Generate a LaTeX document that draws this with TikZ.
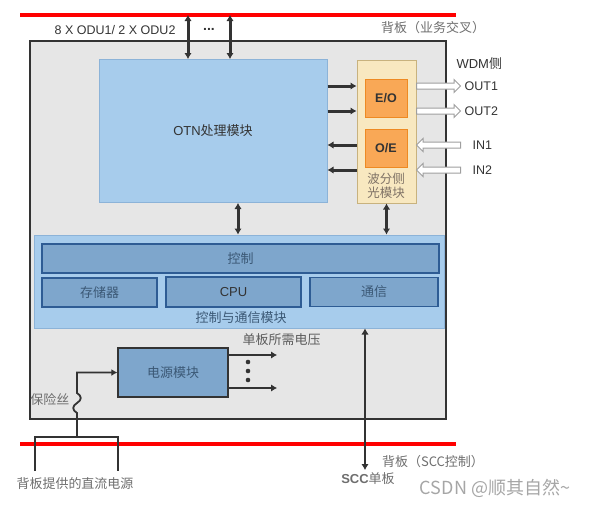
\documentclass[tikz,border=0pt]{standalone}
\usepackage{fontspec}
\setmainfont{Liberation Sans}
\newfontfamily\cjk{Noto Sans CJK SC}
\usetikzlibrary{arrows.meta,shapes.arrows}
\definecolor{board}{HTML}{E6E6E6}
\definecolor{sky}{HTML}{A7CCEC}
\definecolor{skyline}{HTML}{8CB3D8}
\definecolor{steel}{HTML}{7EA6CC}
\definecolor{deep}{HTML}{2E5C94}
\definecolor{cream}{HTML}{F8E8C0}
\definecolor{tan}{HTML}{C8B27E}
\definecolor{eofill}{HTML}{F9A856}
\definecolor{eoline}{HTML}{EE8A22}
\definecolor{ink}{HTML}{333333}
\definecolor{note}{HTML}{6E6E6E}
\definecolor{slate}{HTML}{3B5875}

\begin{document}
\begin{tikzpicture}[
 x=1pt,y=-1pt,
 box/.style={rectangle,inner sep=0pt},
 unit/.style={box,draw=deep,fill=steel,line width=1.6pt,text=slate,font=\cjk\fontsize{13}{15}\selectfont},
 conv/.style={box,draw=eoline,fill=eofill,line width=1pt,minimum width=42pt,minimum height=38pt,text=ink,font=\bfseries\fontsize{12.5}{14}\selectfont},
 link/.style={{Latex[length=6pt,width=7.5pt]}-{Latex[length=6pt,width=7.5pt]},line width=3pt,draw=ink},
 feed/.style={-{Latex[length=6pt,width=7.5pt]},line width=3pt,draw=ink},
 wire/.style={line width=1.8pt,draw=ink},
 port/.style={single arrow,draw=gray!75,fill=white,line width=1pt,minimum height=44pt,minimum width=12pt,single arrow head extend=3.5pt,inner xsep=0pt,inner ysep=2.5pt},
 bus/.style={draw=red,line width=3.5pt},
 lbl/.style={text=note,font=\cjk\fontsize{13}{15}\selectfont},
 tag/.style={text=ink,font=\fontsize{12.5}{14}\selectfont}
]
\useasboundingbox (0,0) rectangle (590,507);
\node[box,draw=ink,fill=board,line width=2pt,minimum width=416pt,minimum height=378pt] (card) at (238,230) {};
\draw[bus] (20,15) -- (456,15);
\draw[bus] (20,444) -- (456,444);

\node[box,draw=skyline,fill=sky,line width=1pt,minimum width=228pt,minimum height=143pt,text=ink,font=\fontsize{13}{15}\selectfont] (otn) at (213,131) {OTN{\cjk 处理模块}};
\node[box,draw=tan,fill=cream,line width=1pt,minimum width=59pt,minimum height=143pt] (wdm) at (386.5,131.5) {};
\node[conv] (eo) at (386,98) {E/O};
\node[conv] (oe) at (386,148) {O/E};
\node[text=note!80!brown,font=\cjk\fontsize{12.5}{14}\selectfont,align=center] (wdmlbl) at (386,186) {波分侧\\光模块};

\node[box,draw=skyline,fill=sky,line width=1pt,minimum width=410pt,minimum height=93pt] (ctl) at (239,281.5) {};
\node[unit,minimum width=397pt,minimum height=29pt] (ctrl) at (240.5,258.5) {控制};
\node[unit,minimum width=115pt,minimum height=29pt] (mem) at (99.5,292.5) {存储器};
\node[unit,minimum width=135pt,minimum height=30pt,text=ink,font=\fontsize{13}{15}\selectfont] (cpu) at (233.5,292) {CPU};
\node[unit,minimum width=128pt,minimum height=29pt] (comm) at (374,292) {通信};
\node[text=slate,font=\cjk\fontsize{13}{15}\selectfont] (ctllbl) at (241,318) {控制与通信模块};

\node[box,draw=ink,fill=steel,line width=1.3pt,minimum width=110pt,minimum height=49pt,text=slate,font=\cjk\fontsize{13}{15}\selectfont] (pwr) at (173,372.5) {电源模块};

\coordinate (t1) at (188,15);
\coordinate (t2) at (230,15);
\draw[link] (t1) -- (t1 |- otn.north);
\draw[link] (t2) -- (t2 |- otn.north);
\node[tag,anchor=east] (odu) at (179,30) {8 X ODU1/ 2 X ODU2};
\node[tag,font=\bfseries\fontsize{14}{14}\selectfont] (dots) at (209,29) {...};
\node[lbl] (bp1) at (433,28) {背板（业务交叉）};
\node[tag,anchor=west,font=\fontsize{13}{15}\selectfont] (wdmside) at (453,64) {WDM{\cjk 侧}};

\node[port,anchor=tail] (out1) at (416,86) {};
\node[port,anchor=tail] (out2) at (416,111) {};
\node[port,shape border rotate=180,anchor=tail] (in1) at (461,145) {};
\node[port,shape border rotate=180,anchor=tail] (in2) at (461,170) {};
\node[tag,anchor=west] at (out1.tip) {OUT1};
\node[tag,anchor=west] at (out2.tip) {OUT2};
\node[tag,anchor=west] at ([xshift=8pt]in1.tail) {IN1};
\node[tag,anchor=west] at ([xshift=8pt]in2.tail) {IN2};

\draw[feed] (otn.east |- out1) -- (wdm.west |- out1);
\draw[feed] (otn.east |- out2) -- (wdm.west |- out2);
\draw[feed] (wdm.west |- in1) -- (otn.east |- in1);
\draw[feed] (wdm.west |- in2) -- (otn.east |- in2);

\draw[link] ([xshift=25pt]otn.south) -- ([xshift=25pt]otn.south |- ctl.north);
\draw[link] (wdm.south) -- (wdm.south |- ctl.north);

\coordinate (scc) at (365,470);
\draw[link,line width=2.4pt] (scc) -- (scc |- ctl.south);
\node[text=note,font=\bfseries\fontsize{13}{15}\selectfont] (scclbl) at (368,479) {SCC{\cjk\mdseries 单板}};
\node[lbl] (bp2) at (433,462) {背板（SCC控制）};

\coordinate (v1) at (277,355);
\coordinate (v2) at (277,388);
\draw[feed,line width=2pt] (pwr.east |- v1) -- (v1);
\draw[feed,line width=2pt] (pwr.east |- v2) -- (v2);
\foreach \y in {362,371,380} \fill[ink] (248,\y) circle (2.3pt);
\node[lbl,text=ink!80,anchor=west] (vlbl) at (239,340) {单板所需电压};

\coordinate (fz) at (77,437);
\coordinate (dcl) at (35,471);
\coordinate (dcr) at (118,471);
\draw[wire] (dcl) |- (fz) -| (dcr);
\draw[wire,-{Latex[length=6pt,width=7pt]}] (fz) -- (77,413) .. controls (72,410) and (72,406) .. (77,403) .. controls (82,400) and (82,396) .. (77,393) |- (pwr.west);
\node[lbl,anchor=east] (fuse) at (73,400) {保险丝};
\node[lbl] (dc) at (75,484) {背板提供的直流电源};

\node[text=gray!70,font=\cjk\fontsize{18}{20}\selectfont] (mark) at (495,488) {CSDN @顺其自然\textasciitilde};
\end{tikzpicture}
\end{document}
